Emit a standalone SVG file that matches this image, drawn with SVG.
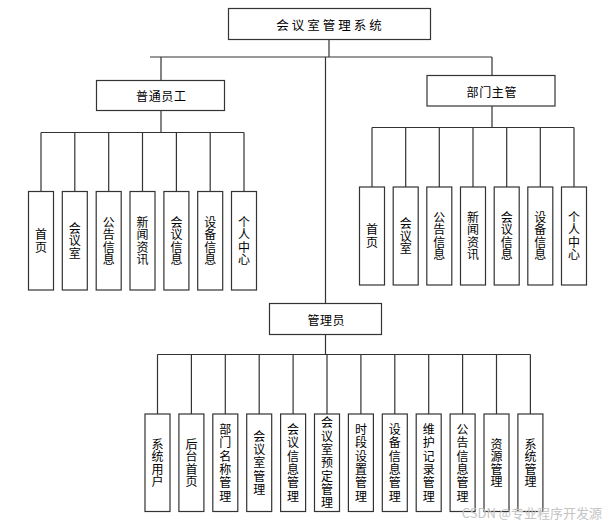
<svg xmlns="http://www.w3.org/2000/svg" width="607" height="523" viewBox="0 0 607 523">
<style>
  .box{fill:#fff;stroke:#333;stroke-width:1.2}
  .ln{fill:none;stroke:#333;stroke-width:1.2}
  .t{font-family:"Noto Sans CJK SC","Liberation Sans",sans-serif;font-size:12px;fill:#000;text-anchor:middle;dominant-baseline:central}
  .h{letter-spacing:0.6px}
  .title{font-size:12.5px;letter-spacing:3px}
  .v{font-family:"Noto Sans CJK SC","Liberation Sans",sans-serif;font-size:12px;fill:#000;text-anchor:middle;writing-mode:vertical-rl;letter-spacing:0.5px}
  .vb{letter-spacing:1.3px}
  .wm{font-family:"Noto Sans CJK SC","Liberation Sans",sans-serif;font-size:13px;fill:#c4c4c4;text-anchor:end}
</style>
<rect width="607" height="523" fill="#fff"/>
<g id="connectors">
  <path class="ln" d="M329,39.5V57M150,57H492M161,57V80.5M492,57V75.5M325.5,57V303.5"/>
  <path class="ln" d="M161,110.5V132.5M41,132.5H244M41,132.5V191.5M74.8,132.5V191.5M108.7,132.5V191.5M142.5,132.5V191.5M176.4,132.5V191.5M210.2,132.5V191.5M244,132.5V191.5"/>
  <path class="ln" d="M492,106V127.5M372,127.5H574M372,127.5V187M405.7,127.5V187M439.3,127.5V187M473,127.5V187M506.7,127.5V187M540.3,127.5V187M574,127.5V187"/>
  <path class="ln" d="M325.5,334.5V354.5M157.5,354.5H530.4M157.5,354.5V414M191.4,354.5V414M225.3,354.5V414M259.2,354.5V414M293.1,354.5V414M327,354.5V414M360.9,354.5V414M394.8,354.5V414M428.7,354.5V414M462.6,354.5V414M496.5,354.5V414M530.4,354.5V414"/>
</g>
<g id="root">
  <rect class="box" x="228.5" y="8.5" width="202" height="31"/>
  <text class="t title" x="330.5" y="24">会议室管理系统</text>
</g>
<g id="employee">
  <rect class="box" x="96.5" y="80.5" width="128" height="30"/>
  <text class="t h" x="161.3" y="95.5">普通员工</text>
</g>
<g id="manager">
  <rect class="box" x="427" y="75.5" width="128" height="30.5"/>
  <text class="t h" x="491.8" y="91">部门主管</text>
</g>
<g id="admin">
  <rect class="box" x="269.5" y="303.5" width="112" height="31"/>
  <text class="t h" x="326.3" y="319">管理员</text>
</g>
<!-- employee children -->
<g id="e1"><rect class="box" x="28.5" y="191.5" width="25" height="98.5"/><text class="v" x="41" y="241">首页</text></g>
<g id="e2"><rect class="box" x="62.3" y="191.5" width="25" height="98.5"/><text class="v" x="74.8" y="241">会议室</text></g>
<g id="e3"><rect class="box" x="96.2" y="191.5" width="25" height="98.5"/><text class="v" x="108.7" y="241">公告信息</text></g>
<g id="e4"><rect class="box" x="130" y="191.5" width="25" height="98.5"/><text class="v" x="142.5" y="241">新闻资讯</text></g>
<g id="e5"><rect class="box" x="163.9" y="191.5" width="25" height="98.5"/><text class="v" x="176.4" y="241">会议信息</text></g>
<g id="e6"><rect class="box" x="197.7" y="191.5" width="25" height="98.5"/><text class="v" x="210.2" y="241">设备信息</text></g>
<g id="e7"><rect class="box" x="231.5" y="191.5" width="25" height="98.5"/><text class="v" x="244" y="241">个人中心</text></g>
<!-- manager children -->
<g id="m1"><rect class="box" x="359.5" y="187" width="25" height="98"/><text class="v" x="372" y="236.3">首页</text></g>
<g id="m2"><rect class="box" x="393.2" y="187" width="25" height="98"/><text class="v" x="405.7" y="236.3">会议室</text></g>
<g id="m3"><rect class="box" x="426.8" y="187" width="25" height="98"/><text class="v" x="439.3" y="236.3">公告信息</text></g>
<g id="m4"><rect class="box" x="460.5" y="187" width="25" height="98"/><text class="v" x="473" y="236.3">新闻资讯</text></g>
<g id="m5"><rect class="box" x="494.2" y="187" width="25" height="98"/><text class="v" x="506.7" y="236.3">会议信息</text></g>
<g id="m6"><rect class="box" x="527.8" y="187" width="25" height="98"/><text class="v" x="540.3" y="236.3">设备信息</text></g>
<g id="m7"><rect class="box" x="561.5" y="187" width="25" height="98"/><text class="v" x="574" y="236.3">个人中心</text></g>
<!-- admin children -->
<g id="a1"><rect class="box" x="145" y="414" width="25" height="97.5"/><text class="v" x="157.5" y="463">系统用户</text></g>
<g id="a2"><rect class="box" x="178.9" y="414" width="25" height="97.5"/><text class="v" x="191.4" y="463">后台首页</text></g>
<g id="a3"><rect class="box" x="212.8" y="414" width="25" height="97.5"/><text class="v vb" x="225.3" y="463.4">部门名称管理</text></g>
<g id="a4"><rect class="box" x="246.7" y="414" width="25" height="97.5"/><text class="v vb" x="259.2" y="463.4">会议室管理</text></g>
<g id="a5"><rect class="box" x="280.6" y="414" width="25" height="97.5"/><text class="v vb" x="293.1" y="463.4">会议信息管理</text></g>
<g id="a6"><rect class="box" x="314.5" y="414" width="25" height="97.5"/><text class="v vb" x="327" y="463.4">会议室预定管理</text></g>
<g id="a7"><rect class="box" x="348.4" y="414" width="25" height="97.5"/><text class="v vb" x="360.9" y="463.4">时段设置管理</text></g>
<g id="a8"><rect class="box" x="382.3" y="414" width="25" height="97.5"/><text class="v vb" x="394.8" y="463.4">设备信息管理</text></g>
<g id="a9"><rect class="box" x="416.2" y="414" width="25" height="97.5"/><text class="v vb" x="428.7" y="463.4">维护记录管理</text></g>
<g id="a10"><rect class="box" x="450.1" y="414" width="25" height="97.5"/><text class="v vb" x="462.6" y="463.4">公告信息管理</text></g>
<g id="a11"><rect class="box" x="484" y="414" width="25" height="97.5"/><text class="v" x="496.5" y="463">资源管理</text></g>
<g id="a12"><rect class="box" x="517.9" y="414" width="25" height="97.5"/><text class="v" x="530.4" y="463">系统管理</text></g>
<text class="wm" x="602" y="518">CSDN @专业程序开发源</text>
</svg>
